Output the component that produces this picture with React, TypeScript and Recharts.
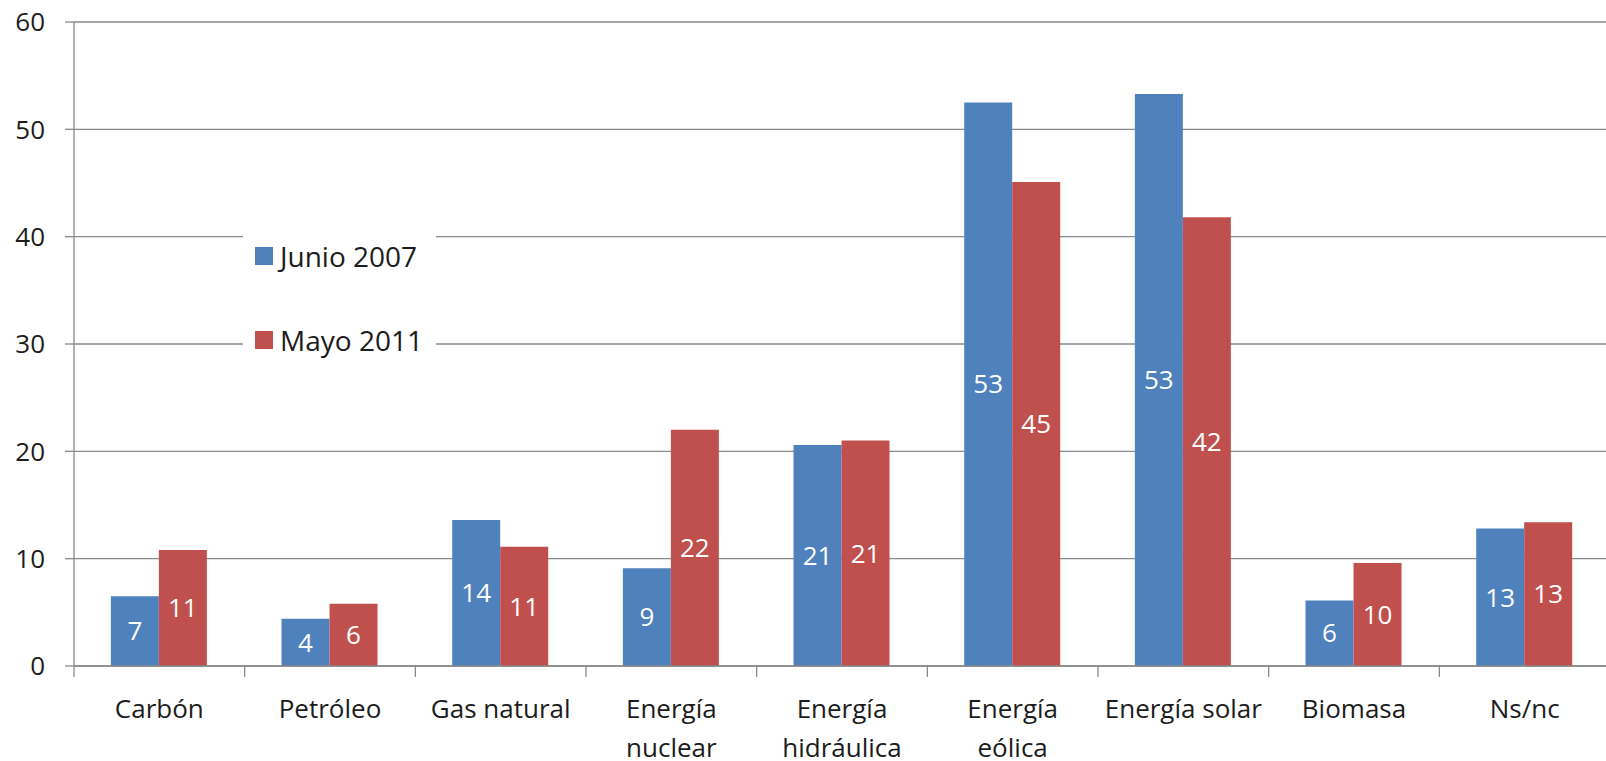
import React from 'react';
import { BarChart, Bar, XAxis, YAxis, CartesianGrid, Legend, LabelList } from 'recharts';

const CATEGORIES = [
  'Carbón',
  'Petróleo',
  'Gas natural',
  'Energía\nnuclear',
  'Energía\nhidráulica',
  'Energía\neólica',
  'Energía solar',
  'Biomasa',
  'Ns/nc',
];
const JUNIO_2007 = [6.5, 4.4, 13.6, 9.1, 20.6, 52.5, 53.3, 6.1, 12.8];
const MAYO_2011 = [10.8, 5.8, 11.1, 22.0, 21.0, 45.1, 41.8, 9.6, 13.4];
const Y_TICKS = [0, 10, 20, 30, 40, 50, 60];

const BLUE = '#4F81BD';
const RED = '#C0504D';
const GRID = '#8a8a8a';
const TEXT = '#1c1c1c';
const FONT = '"Open Sans", sans-serif';

const W = 1612;
const H = 761;
const LEFT = 74;
const RIGHT = 2;

const data = CATEGORIES.map((c, i) => ({
  cat: c,
  junio: JUNIO_2007[i],
  mayo: MAYO_2011[i],
}));

// tick marks sit on the category boundaries, labels at the centres
const CategoryTick = (props: any) => {
  const { x, y, payload } = props;
  const half = payload?.offset ?? (W - LEFT - RIGHT) / CATEGORIES.length / 2;
  const lines = String(payload.value).split('\n');
  return (
    <g>
      <line x1={x - half} x2={x - half} y1={y - 11} y2={y} stroke={GRID} strokeWidth={1.3} />
      <text x={x} y={y + 41} textAnchor="middle" fill={TEXT} fontSize={26} fontFamily={FONT}>
        {lines.map((l, i) => (
          <tspan key={i} x={x} dy={i === 0 ? 0 : 39}>
            {l}
          </tspan>
        ))}
      </text>
    </g>
  );
};

const LegendBox = (props: any) => {
  const items = props.payload || [];
  return (
    <div style={{ position: 'relative', width: 193, height: 150, background: '#fff' }}>
      {items.map((it: any, i: number) => (
        <div
          key={i}
          style={{
            position: 'absolute',
            left: 12,
            top: 32 + i * 84 - 8,
            height: 34,
            display: 'flex',
            alignItems: 'center',
            fontFamily: FONT,
            fontSize: 28,
            color: TEXT,
            whiteSpace: 'nowrap',
          }}
        >
          <span style={{ display: 'inline-block', width: 18, height: 18, background: it.color, marginRight: 7 }} />
          {it.value}
        </div>
      ))}
    </div>
  );
};

export default function App() {
  return (
    <div
      style={{
        position: 'absolute',
        left: 0,
        top: 0,
        width: 1606,
        height: 761,
        overflow: 'hidden',
        background: '#fff',
        fontFamily: FONT,
      }}
    >
      <BarChart
        width={W}
        height={H}
        data={data}
        margin={{ top: 22, right: RIGHT, bottom: 0, left: 0 }}
        barCategoryGap="21.6%"
        barGap={0}
      >
        <CartesianGrid vertical={false} stroke={GRID} strokeWidth={1.3} />
        <XAxis
          dataKey="cat"
          interval={0}
          height={95}
          tickSize={11}
          tickMargin={0}
          tickLine={false}
          axisLine={{ stroke: GRID, strokeWidth: 1.3 }}
          tick={<CategoryTick />}
        />
        <YAxis
          width={LEFT}
          domain={[0, 60]}
          ticks={Y_TICKS}
          interval={0}
          tickSize={9}
          tickMargin={20}
          axisLine={{ stroke: GRID, strokeWidth: 1.3 }}
          tickLine={{ stroke: GRID, strokeWidth: 1.3 }}
          tick={{ fill: TEXT, fontSize: 26, fontFamily: FONT }}
        />
        <Legend
          layout="vertical"
          align="center"
          verticalAlign="middle"
          content={<LegendBox />}
          wrapperStyle={{ position: 'absolute', left: 243, top: 215, width: 193, height: 150 }}
        />
        <Bar dataKey="junio" name="Junio 2007" fill={BLUE} isAnimationActive={false}>
          <LabelList
            dataKey="junio"
            position="center"
            fill="#fff"
            fontSize={26}
            fontFamily={FONT}
            formatter={(v: any) => Math.round(Number(v))}
          />
        </Bar>
        <Bar dataKey="mayo" name="Mayo 2011" fill={RED} isAnimationActive={false}>
          <LabelList
            dataKey="mayo"
            position="center"
            fill="#fff"
            fontSize={26}
            fontFamily={FONT}
            formatter={(v: any) => Math.round(Number(v))}
          />
        </Bar>
      </BarChart>
    </div>
  );
}
